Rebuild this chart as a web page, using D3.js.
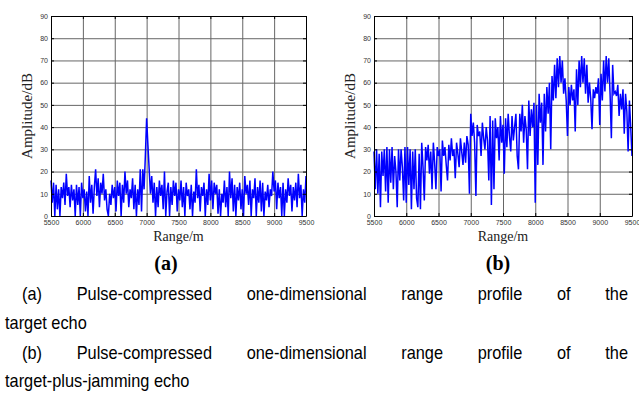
<!DOCTYPE html>
<html>
<head>
<meta charset="utf-8">
<script src="https://cdn.jsdelivr.net/npm/d3@7"></script>
<style>
  html, body { margin: 0; padding: 0; background: #fff; }
  svg { display: block; }
</style>
</head>
<body>
<svg id="chart" width="639" height="395"></svg>
<script>
// Range profiles, sampled every 20 m from 5500 m to 9500 m
const RANGE_START = 5500, RANGE_END = 9500, RANGE_STEP = 20;

// (a) target echo only, dB
const AMP_TARGET = [
  16,6,15,0,14,3,12,0,13,8,
  15,5,19,9,13,4,14,7,12,0,
  14,5,13,0,15,8,12,2,11,0,
  18,6,14,1,13,21,9,17,4,15,
  10,19,7,12,3,0,10,5,14,8,
  13,2,16,9,15,0,14,6,20,10,
  16,4,12,8,17,3,14,0,12,5,
  21,2,21,12,27,44,32,21,10,18,
  6,15,0,13,4,16,9,14,3,20,
  0,11,15,0,13,5,16,9,15,2,
  12,7,16,4,13,0,15,9,12,3,
  14,0,11,6,21,8,14,2,13,9,
  15,0,12,5,19,7,16,3,15,10,
  14,1,12,0,10,6,16,4,13,0,
  20,8,17,2,14,0,13,7,15,3,
  12,0,18,10,14,5,16,0,12,8,
  17,0,13,6,16,2,15,0,11,7,
  14,4,12,9,20,11,16,3,15,8,
  13,0,15,0,12,6,17,9,14,2,
  13,7,15,4,19,8,14,0,12,6,
  18
];

// (b) target plus jamming, dB
const AMP_JAM = [
  29,12,30,10,28,4,29,18,30,11,
  31,6,30,15,31,12,27,20,4,30,
  16,30,22,7,31,6,31,14,30,3,
  29,12,30,8,4,28,3,33,22,7,
  31,25,32,19,29,12,33,24,12,31,
  27,30,11,34,27,31,23,16,32,25,
  35,27,30,17,33,28,22,35,29,23,
  33,24,36,32,10,46,36,42,33,9,
  41,36,38,27,42,35,30,40,34,16,
  45,5,43,12,44,35,40,25,45,33,
  41,19,44,31,46,36,29,45,34,40,
  46,27,21,46,38,50,33,45,39,21,
  52,36,48,40,51,6,50,23,55,42,
  51,23,55,38,58,46,60,30,63,52,
  68,53,71,58,72,60,70,55,62,52,
  36,58,50,59,52,57,38,66,50,70,
  58,72,60,71,55,68,51,60,53,39,
  57,53,58,55,62,41,64,52,70,56,
  72,60,71,55,35,68,55,56,54,59,
  45,55,48,57,37,55,47,29,52,40,
  27
];

const X_TICKS = [5500, 6000, 6500, 7000, 7500, 8000, 8500, 9000, 9500];
const Y_TICKS = [0, 10, 20, 30, 40, 50, 60, 70, 80, 90];
const PANEL_LABELS = ["(a)", "(b)"];
const CAPTION_LINES = [
  { words: "(a) Pulse-compressed one-dimensional range profile of the", justify: true, indent: true },
  { words: "target echo", justify: false, indent: false },
  { words: "(b) Pulse-compressed one-dimensional range profile of the", justify: true, indent: true },
  { words: "target-plus-jamming echo", justify: false, indent: false }
];

const svg = d3.select("#chart");

/* ── one MATLAB-style panel ── */
function drawPanel(values, box, label) {
  const pts = values.map((v, i) => [RANGE_START + i * RANGE_STEP, v]);
  const x = d3.scaleLinear().domain([RANGE_START, RANGE_END]).range([box.left, box.right]);
  const y = d3.scaleLinear().domain([0, 90]).range([box.bottom, box.top]);
  const g = svg.append("g");

  // grid
  g.append("g").call(d3.axisBottom(x).tickValues(X_TICKS).tickSize(-(box.bottom - box.top)).tickFormat(""))
    .attr("transform", `translate(0,${box.bottom})`)
    .call(ax => { ax.select(".domain").remove(); ax.selectAll("line").attr("stroke", "#666").attr("stroke-width", 1); });
  g.append("g").call(d3.axisLeft(y).tickValues(Y_TICKS).tickSize(-(box.right - box.left)).tickFormat(""))
    .attr("transform", `translate(${box.left},0)`)
    .call(ax => { ax.select(".domain").remove(); ax.selectAll("line").attr("stroke", "#666").attr("stroke-width", 1); });

  // signal
  g.append("path").datum(pts)
    .attr("fill", "none").attr("stroke", "#0000ff").attr("stroke-width", 1.5)
    .attr("stroke-linejoin", "miter")
    .attr("d", d3.line().x(d => x(d[0])).y(d => y(d[1])));

  // axes with inward ticks
  const styleAxis = ax => {
    ax.attr("font-family", "Arial, 'Liberation Sans', sans-serif").attr("font-size", 7);
    ax.select(".domain").attr("stroke", "#000").attr("stroke-width", 1);
    ax.selectAll("line").attr("stroke", "#000");
    ax.selectAll("text").attr("fill", "#333");
  };
  g.append("g").attr("transform", `translate(0,${box.bottom})`)
    .call(d3.axisBottom(x).tickValues(X_TICKS).tickFormat(d3.format("d")).tickSizeInner(-3).tickSizeOuter(0).tickPadding(4))
    .call(styleAxis);
  g.append("g").attr("transform", `translate(0,${box.top})`)
    .call(d3.axisTop(x).tickValues(X_TICKS).tickSizeInner(-3).tickSizeOuter(0).tickFormat(""))
    .call(styleAxis);
  g.append("g").attr("transform", `translate(${box.left},0)`)
    .call(d3.axisLeft(y).tickValues(Y_TICKS).tickSizeInner(-3).tickSizeOuter(0).tickPadding(3))
    .call(styleAxis);
  g.append("g").attr("transform", `translate(${box.right},0)`)
    .call(d3.axisRight(y).tickValues(Y_TICKS).tickSizeInner(-3).tickSizeOuter(0).tickFormat(""))
    .call(styleAxis);

  // axis titles
  g.append("text")
    .attr("x", (box.left + box.right) / 2).attr("y", 241)
    .attr("text-anchor", "middle").attr("font-family", "'Liberation Serif', 'Times New Roman', serif")
    .attr("font-size", 14).attr("fill", "#222")
    .text("Range/m");
  g.append("text")
    .attr("transform", `translate(${box.left - 19},${(box.top + box.bottom) / 2}) rotate(-90)`)
    .attr("text-anchor", "middle").attr("font-family", "'Liberation Serif', 'Times New Roman', serif")
    .attr("font-size", 15).attr("fill", "#222")
    .text("Amplitude/dB");

  // (a)/(b) label
  g.append("text")
    .attr("x", box.labelX).attr("y", 270)
    .attr("text-anchor", "middle").attr("font-family", "'Liberation Serif', 'Times New Roman', serif")
    .attr("font-size", 20).attr("font-weight", "bold").attr("fill", "#000")
    .text(label);
}

drawPanel(AMP_TARGET, { left: 51, right: 306, top: 16, bottom: 216, labelX: 166 }, PANEL_LABELS[0]);
drawPanel(AMP_JAM,    { left: 374, right: 632, top: 16, bottom: 216, labelX: 498 }, PANEL_LABELS[1]);

/* ── caption, justified like the paper (narrow sans, so glyphs are squeezed) ── */
const SQUEEZE = 0.86;
const cap = svg.append("g")
  .attr("font-family", "Arial, 'Liberation Sans', sans-serif")
  .attr("font-size", 19).attr("fill", "#000");
const baselines = [300, 329, 359, 387];
const squeeze = n => {
  const w = n.node().getComputedTextLength() * SQUEEZE;
  n.attr("textLength", w).attr("lengthAdjust", "spacingAndGlyphs");
  return w;
};

CAPTION_LINES.forEach((line, li) => {
  const x0 = line.indent ? 22 : 5, x1 = 628;
  if (!line.justify) {
    squeeze(cap.append("text").attr("x", x0).attr("y", baselines[li]).text(line.words));
    return;
  }
  const words = line.words.split(" ");
  const nodes = words.map(w => cap.append("text").attr("y", baselines[li]).text(w));
  const widths = nodes.map(squeeze);
  const gap = (x1 - x0 - d3.sum(widths)) / (words.length - 1);
  let cx = x0;
  nodes.forEach((n, i) => { n.attr("x", cx); cx += widths[i] + gap; });
});
</script>
</body>
</html>
